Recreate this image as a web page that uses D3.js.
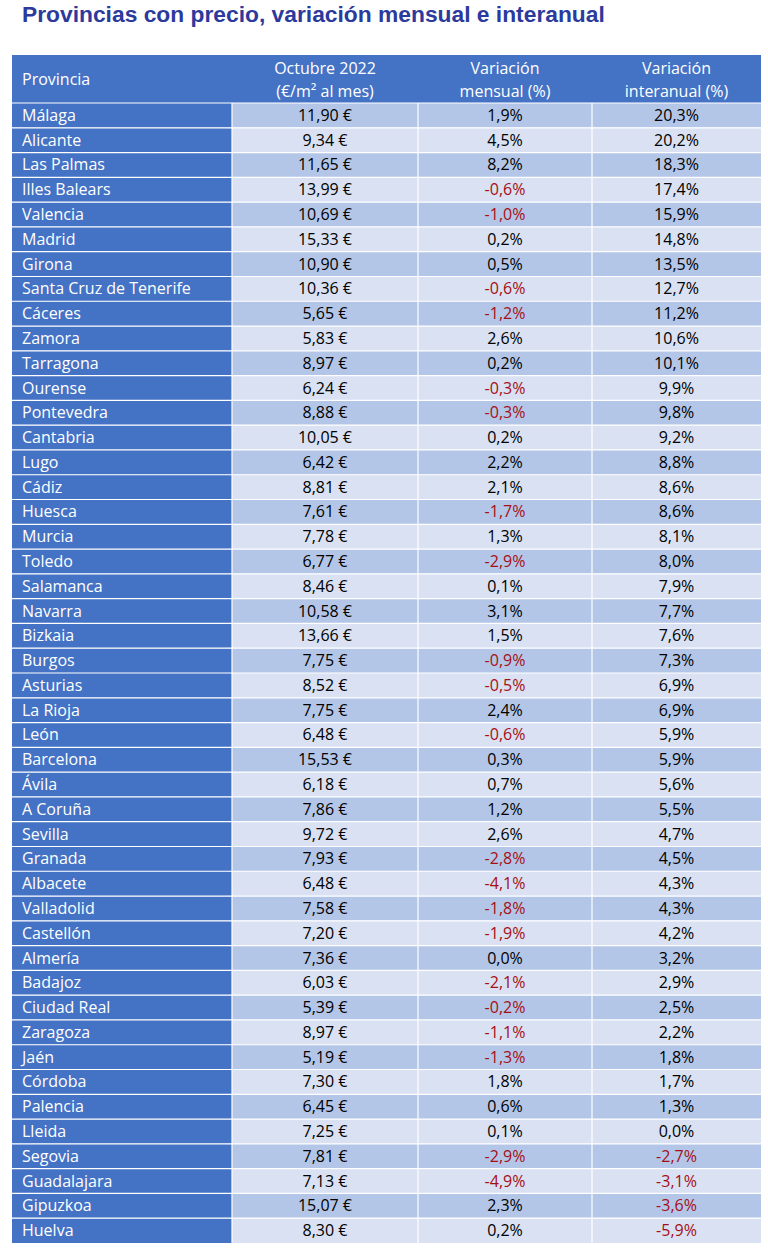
<!DOCTYPE html><html><head><meta charset="utf-8"><script src="https://cdn.jsdelivr.net/npm/d3@7"></script>
<style>body{margin:0;background:#fff}</style></head><body><svg id="c" width="768" height="1248"></svg>
<script>
const provinces=["Málaga","Alicante","Las Palmas","Illes Balears","Valencia","Madrid","Girona","Santa Cruz de Tenerife","Cáceres","Zamora","Tarragona","Ourense","Pontevedra","Cantabria","Lugo","Cádiz","Huesca","Murcia","Toledo","Salamanca","Navarra","Bizkaia","Burgos","Asturias","La Rioja","León","Barcelona","Ávila","A Coruña","Sevilla","Granada","Albacete","Valladolid","Castellón","Almería","Badajoz","Ciudad Real","Zaragoza","Jaén","Córdoba","Palencia","Lleida","Segovia","Guadalajara","Gipuzkoa","Huelva"];
const prices=[11.90,9.34,11.65,13.99,10.69,15.33,10.90,10.36,5.65,5.83,8.97,6.24,8.88,10.05,6.42,8.81,7.61,7.78,6.77,8.46,10.58,13.66,7.75,8.52,7.75,6.48,15.53,6.18,7.86,9.72,7.93,6.48,7.58,7.20,7.36,6.03,5.39,8.97,5.19,7.30,6.45,7.25,7.81,7.13,15.07,8.30];
const monthly=[1.9,4.5,8.2,-0.6,-1.0,0.2,0.5,-0.6,-1.2,2.6,0.2,-0.3,-0.3,0.2,2.2,2.1,-1.7,1.3,-2.9,0.1,3.1,1.5,-0.9,-0.5,2.4,-0.6,0.3,0.7,1.2,2.6,-2.8,-4.1,-1.8,-1.9,0.0,-2.1,-0.2,-1.1,-1.3,1.8,0.6,0.1,-2.9,-4.9,2.3,0.2];
const yearly=[20.3,20.2,18.3,17.4,15.9,14.8,13.5,12.7,11.2,10.6,10.1,9.9,9.8,9.2,8.8,8.6,8.6,8.1,8.0,7.9,7.7,7.6,7.3,6.9,6.9,5.9,5.9,5.6,5.5,4.7,4.5,4.3,4.3,4.2,3.2,2.9,2.5,2.2,1.8,1.7,1.3,0.0,-2.7,-3.1,-3.6,-5.9];
const headers=[["Provincia"],["Octubre 2022","(€/m² al mes)"],["Variación","mensual (%)"],["Variación","interanual (%)"]];

const svg=d3.select("#c");
const fmt=v=>v.toFixed(1).replace(".",",")+"%";
const fmtP=v=>v.toFixed(2).replace(".",",")+" €";
svg.append("text").attr("x",22).attr("y",22).attr("font-family","Liberation Sans, Arial").attr("font-weight","bold").attr("font-size",22.8).attr("fill","#2b3a9c").text("Provincias con precio, variación mensual e interanual");
const colEdges=[12,232,418,592,761];
const x0=12,hTop=55,hBot=103,bottom=1243;
const y=d3.scaleBand().domain(d3.range(provinces.length)).range([hBot,bottom]);
const font="Open Sans, Noto Sans, sans-serif";
svg.append("rect").attr("x",x0).attr("y",hTop).attr("width",761-x0).attr("height",hBot-hTop).attr("fill","#4472c4");
headers.forEach((h,i)=>{
  const t=svg.append("text").attr("font-family",font).attr("font-size",16).attr("fill","#fff");
  if(i===0){t.attr("x",22).attr("y",85).text(h[0]);}
  else{const cx=(colEdges[i]+colEdges[i+1])/2;
    t.attr("text-anchor","middle");
    t.append("tspan").attr("x",cx).attr("y",74).text(h[0]);
    t.append("tspan").attr("x",cx).attr("y",97).text(h[1]);}
});
const rows=svg.append("g").selectAll("g").data(provinces).join("g");
rows.append("rect").attr("x",x0).attr("y",(d,i)=>y(i)).attr("width",colEdges[1]-x0).attr("height",y.bandwidth()).attr("fill","#4472c4");
[1,2,3].forEach(c=>{
  rows.append("rect").attr("x",colEdges[c]).attr("y",(d,i)=>y(i)).attr("width",colEdges[c+1]-colEdges[c]).attr("height",y.bandwidth()).attr("fill",(d,i)=>i%2===0?"#b4c6e7":"#d9e1f2");
});
rows.append("text").attr("x",22).attr("y",(d,i)=>y(i)+y.bandwidth()/2+5.5).attr("font-family",font).attr("font-size",16).attr("fill","#fff").text(d=>d);
const cols=[[prices,fmtP],[monthly,fmt],[yearly,fmt]];
cols.forEach(([arr,f],k)=>{
  const c=k+1,cx=(colEdges[c]+colEdges[c+1])/2;
  rows.append("text").attr("x",cx).attr("text-anchor","middle").attr("y",(d,i)=>y(i)+y.bandwidth()/2+5.5).attr("font-family",font).attr("font-size",16)
   .attr("fill",(d,i)=>k>0&&arr[i]<0?"#a50f15":"#000").text((d,i)=>f(arr[i]));
});
const g=svg.append("g").attr("stroke","#fff").attr("stroke-width",1.2);
g.selectAll("line.h").data(d3.range(provinces.length)).join("line").attr("x1",x0).attr("x2",761).attr("y1",i=>y(i)).attr("y2",i=>y(i));
g.selectAll("line.v").data(colEdges.slice(1,4)).join("line").attr("x1",d=>d).attr("x2",d=>d).attr("y1",hBot).attr("y2",bottom);
</script></body></html>
